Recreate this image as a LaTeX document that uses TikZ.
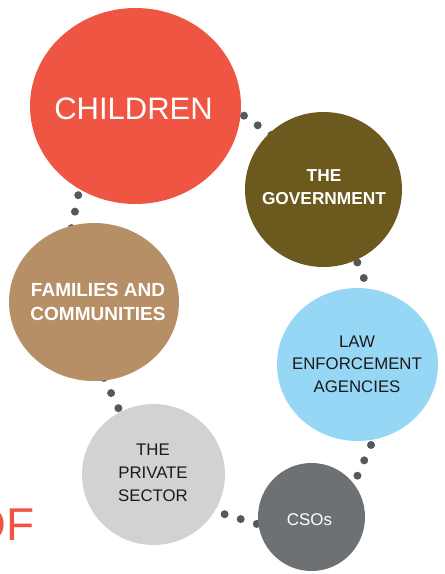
\documentclass[tikz,border=0pt]{standalone}
\usepackage{fontspec}
\setmainfont{Liberation Sans}
\usetikzlibrary{shapes.geometric, backgrounds}

\definecolor{childred}{HTML}{EF5543}
\definecolor{govbrown}{HTML}{6B591E}
\definecolor{famtan}{HTML}{B68F66}
\definecolor{lawblue}{HTML}{96D7F5}
\definecolor{privgray}{HTML}{D1D2D3}
\definecolor{csogray}{HTML}{6E7173}
\definecolor{dotgray}{HTML}{55585C}
\definecolor{inkblack}{HTML}{1A1A1A}

\tikzset{
	bubble/.style={ellipse, inner sep=0pt, outer sep=0pt},
	tag/.style={inner sep=0pt, align=center},
	dotlink/.style={draw=dotgray, line width=8pt, line cap=round,
		dash pattern=on 0pt off 16.8pt, shorten <=-5pt, shorten >=-5pt}
}

\begin{document}
\begin{tikzpicture}[x=1pt, y=-1pt]

\useasboundingbox (0,0) rectangle (445,574);

\node [bubble, fill=childred, minimum width=211pt, minimum height=196pt] (children) at (135.5,106) {};
\node [bubble, fill=govbrown, minimum width=157pt, minimum height=155pt] (govt) at (323.5,189.5) {};
\node [bubble, fill=famtan, minimum width=170pt, minimum height=158pt] (families) at (94,302) {};
\node [bubble, fill=lawblue, minimum width=161pt, minimum height=153pt] (law) at (357.5,364.5) {};
\node [bubble, fill=privgray, minimum width=143pt, minimum height=141pt] (private) at (153.5,474.5) {};
\node [bubble, fill=csogray, minimum width=107pt, minimum height=108pt] (csos) at (311.5,517) {};

\node [tag, text=white, font=\fontsize{31}{36}\selectfont] (children-text) at (133.5,109) {CHILDREN};
\node [tag, text=white, font=\fontsize{17.3}{23}\selectfont\bfseries] (govt-text) at (324,187) {THE\\GOVERNMENT};
\node [tag, text=white, font=\fontsize{19}{24}\selectfont\bfseries] (families-text) at (98,302) {FAMILIES AND\\COMMUNITIES};
\node [tag, text=inkblack, font=\fontsize{16.8}{22.5}\selectfont] (law-text) at (357,364) {LAW\\ENFORCEMENT\\AGENCIES};
\node [tag, text=inkblack, font=\fontsize{16.8}{23}\selectfont] (private-text) at (153,473) {THE\\PRIVATE\\SECTOR};
\node [tag, text=white, font=\fontsize{16.9}{20}\selectfont] (csos-text) at (309.5,520) {CSOs};

\node [inner sep=0pt, anchor=base east, text=childred, font=\fontsize{46}{50}\selectfont] (of) at (34.3,540) {OF};

\begin{scope}[on background layer]
\draw [dotlink, dash phase=7.8pt] (children.-4.2) -- (govt.134.4);
\draw [dotlink, dash phase=5.55pt] (children.-124.2) -- (families.106);
\draw [dotlink, dash phase=9pt] (govt.-65.4) -- (law.82.9);
\draw [dotlink, dash phase=14.5pt] (families.-82.6) -- (private.118.2);
\draw [dotlink, dash phase=1.3pt] (private.-31.7) -- (csos.188.1);
\draw [dotlink, dash phase=5.8pt] (law.-78) -- (csos.38.6);
\end{scope}

\end{tikzpicture}
\end{document}
